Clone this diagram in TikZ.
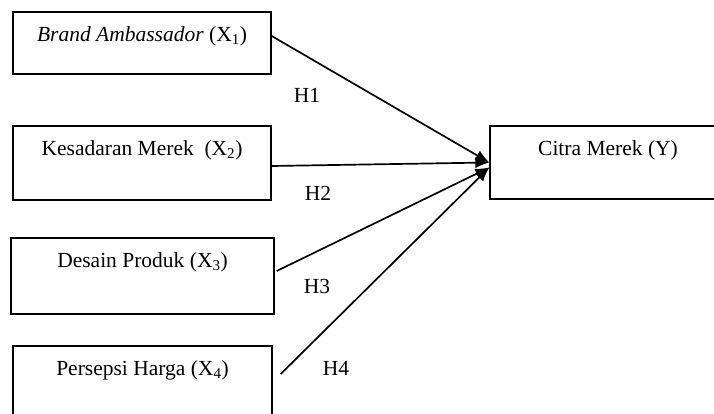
\documentclass[tikz,border=0pt]{standalone}
\usepackage{fontspec}
\setmainfont{Liberation Serif}
\usepackage{tikz}
\usetikzlibrary{arrows.meta, positioning, calc}
\tikzset{
	varbox/.style={draw, line width=1.4pt, minimum height=#1, inner sep=0pt},
	varbox/.default=74pt,
	boxtext/.style={anchor=north, yshift=-12pt, font=\fontsize{21.5}{25}\selectfont},
	hyplabel/.style={font=\fontsize{21.5}{25}\selectfont},
	hyparr/.style={-{Latex[length=14pt, width=11pt]}, line width=1.7pt},
}

\begin{document}
\begin{tikzpicture}[x=1pt, y=-1pt]
				\useasboundingbox (0,0) rectangle (714,414);
				\node[varbox=62pt, minimum width=258pt, label={[boxtext]north:\textit{Brand Ambassador} (X\textsubscript{1})}] (x1) at (142,43) {};
				\node[varbox=74pt, minimum width=258pt, label={[boxtext]north:Kesadaran Merek~~(X\textsubscript{2})}] (x2) at (142,163) {};
				\node[varbox=76pt, minimum width=263pt, label={[boxtext]north:Desain Produk (X\textsubscript{3})}] (x3) at (142.5,276) {};
				\node[varbox=80pt, minimum width=259pt, label={[boxtext]north:Persepsi Harga (X\textsubscript{4})}] (x4) at (142.5,386) {};
				\node[varbox=73pt, minimum width=236pt, label={[boxtext]north:Citra Merek (Y)}] (y) at (608,162.5) {};
				\draw[hyparr] ([yshift=7pt]x1.east) -- (y.west);
				\draw[hyparr] ([yshift=-3pt]x2.east) -- (y.west);
				\draw[hyparr] ([xshift=2pt, yshift=5pt]x3.east) -- ([yshift=-5pt]y.west);
				\draw[hyparr] ([xshift=8pt, yshift=12pt]x4.east) -- ([yshift=-5pt]y.west);
				\node[hyplabel] (h1) at (307,95) {H1};
				\node[hyplabel] (h2) at (318,193) {H2};
				\node[hyplabel] (h3) at (317,286) {H3};
				\node[hyplabel] (h4) at (336,368) {H4};
			\end{tikzpicture}
\end{document}
